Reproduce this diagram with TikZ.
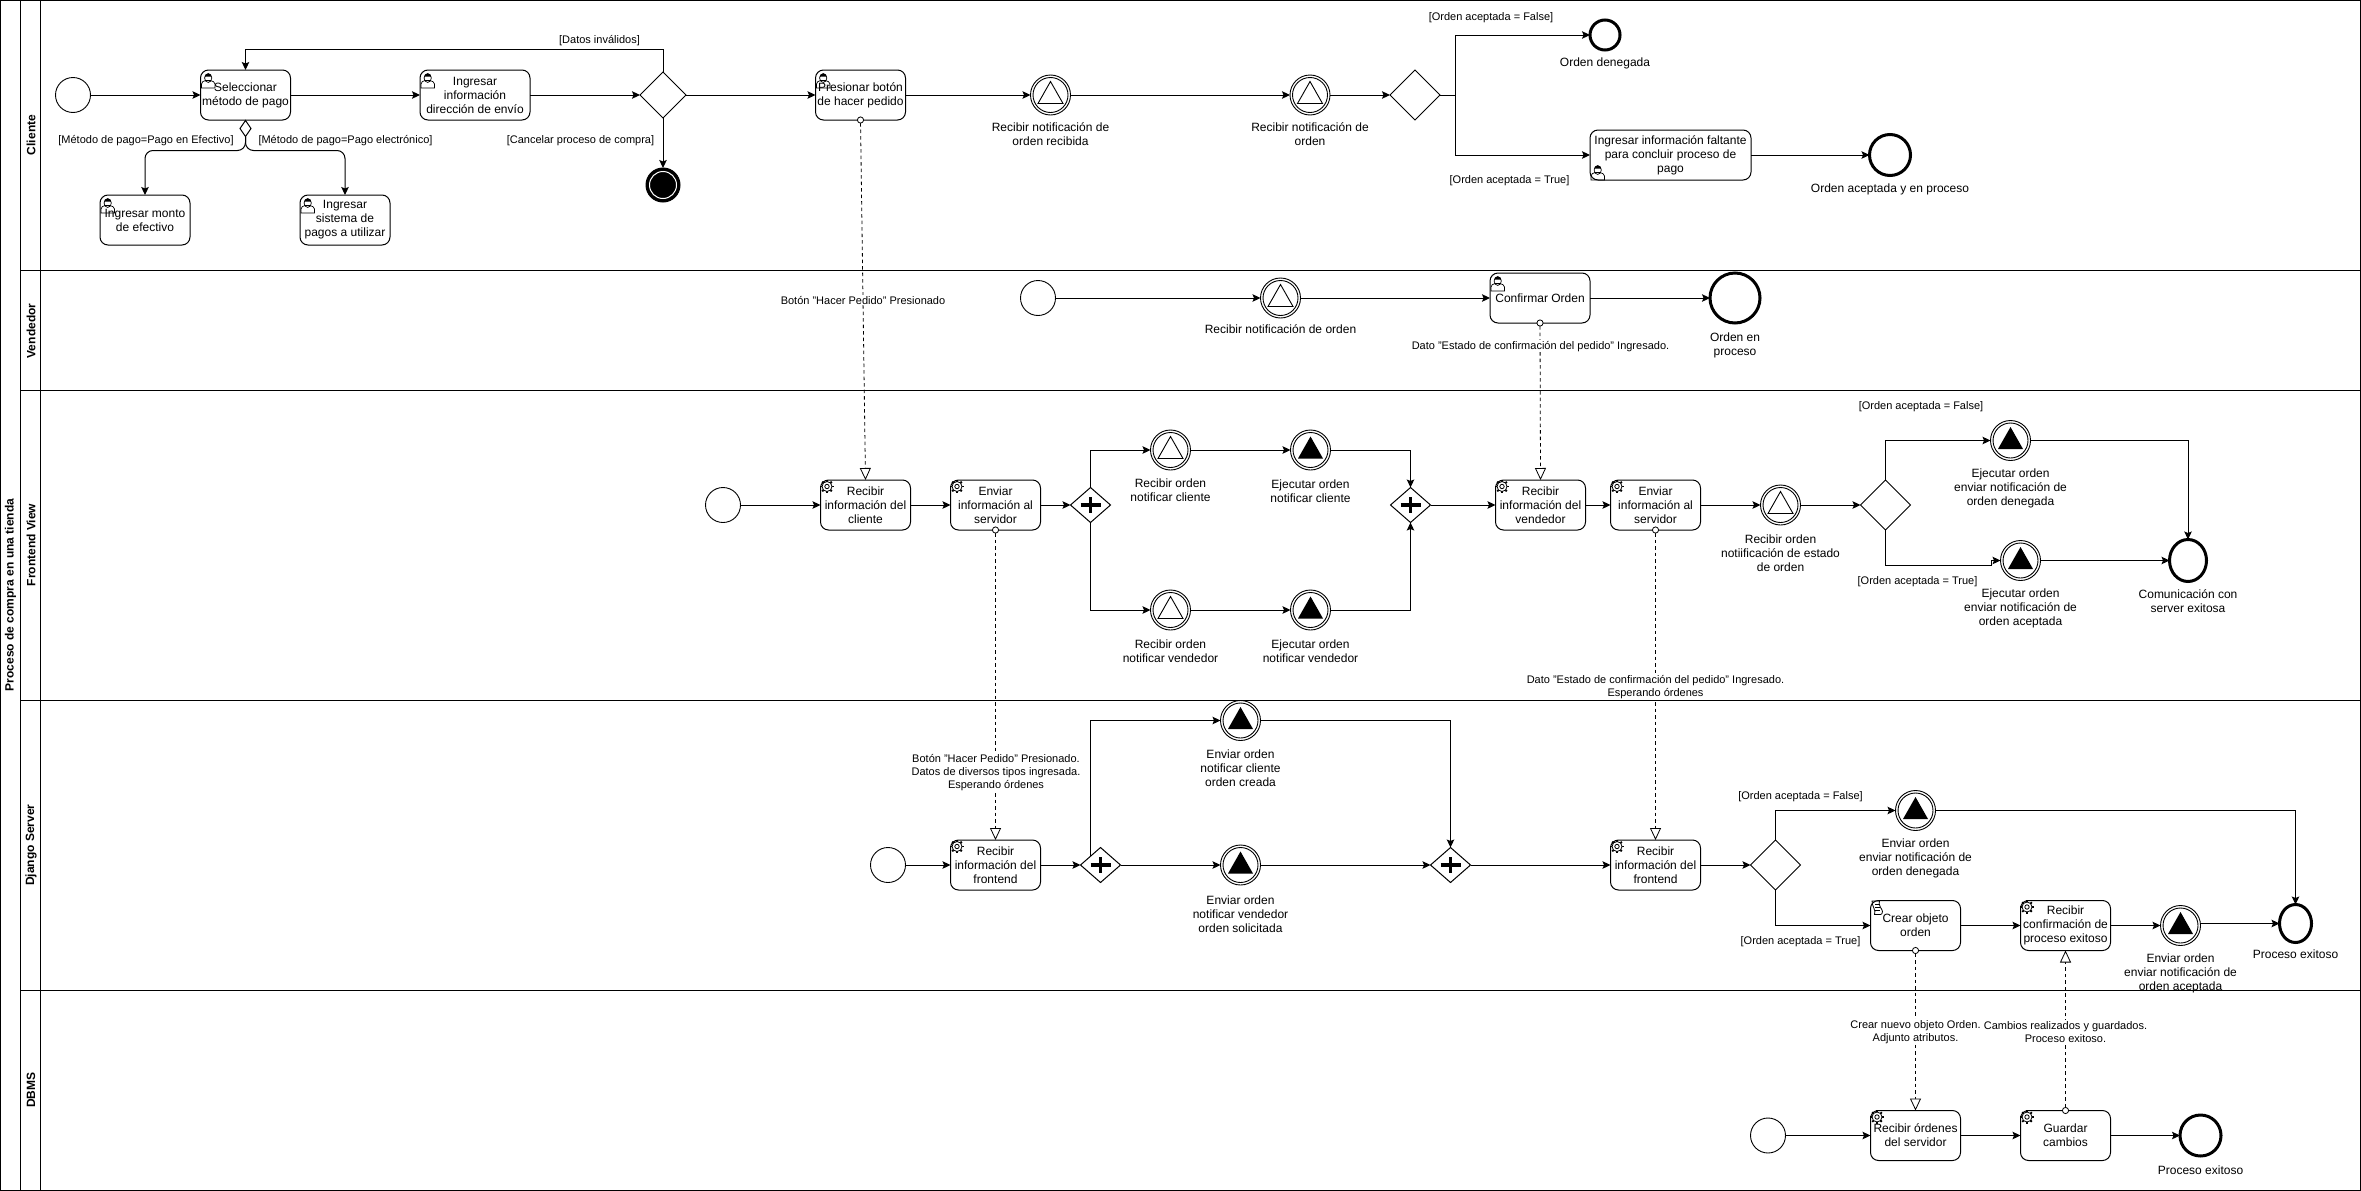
\documentclass[tikz,border=0pt]{standalone}
\usepackage{fontspec}
\setmainfont{Liberation Sans}
\usetikzlibrary{shapes.geometric, arrows.meta, positioning, calc}
\tikzstyle{arrow} = [line width=1pt, -{Stealth[length=8pt,width=7.5pt,inset=1.5pt]}]
\tikzstyle{line} = [line width=1pt]
\tikzstyle{flow} = [line width=0.8pt, dash pattern=on 3.5pt off 3pt, shorten <=-3.5pt,
	{Circle[length=7pt,width=7pt,fill=white]}-{Triangle[length=12pt,width=11pt,fill=white]}]
\tikzstyle{task} = [draw, line width=1pt, rounded corners=8pt, fill=white, inner sep=0, outer sep=0,
	minimum width=90, minimum height=50, align=center]
\tikzstyle{start} = [draw, circle, line width=0.9pt, inner sep=0, outer sep=0, minimum size=35]
\tikzstyle{final} = [draw, ellipse, line width=3pt, fill=white, inner sep=0, outer sep=0]
\tikzstyle{blackend} = [draw, circle, fill=black, line width=1pt, inner sep=0, outer sep=0, minimum size=34,
	path picture={\draw [white, line width=1pt] (path picture bounding box.center) circle (13.5);}]
\tikzstyle{event} = [draw, circle, line width=0.9pt, inner sep=0, outer sep=0, minimum size=40]
\tikzstyle{evrecv} = [event, path picture={
	\draw [line width=0.9pt] (path picture bounding box.center) circle (17.5);
	\draw [line width=0.9pt] (path picture bounding box.center) ++(0,-13.5) -- ++(12.5,22) -- ++(-25,0) -- cycle;}]
\tikzstyle{evsend} = [event, path picture={
	\draw [line width=0.9pt] (path picture bounding box.center) circle (17.5);
	\fill (path picture bounding box.center) ++(0,-13.5) -- ++(12.5,22) -- ++(-25,0) -- cycle;}]
\tikzstyle{gate} = [draw, diamond, line width=1pt, fill=white, inner sep=0, outer sep=0, minimum width=50, minimum height=50]
\tikzstyle{gateplus} = [gate, minimum width=40, minimum height=35, path picture={
	\draw [line width=3.5pt] (path picture bounding box.center) ++(-10,0) -- ++(20,0);
	\draw [line width=3.5pt] (path picture bounding box.center) ++(0,-8) -- ++(0,16);}]
\tikzstyle{cond} = [draw, diamond, line width=1pt, fill=white, inner sep=0, outer sep=0, minimum width=11, minimum height=16]
\tikzstyle{note} = [inner sep=0, align=center, yshift=-0.7pt]
\tikzstyle{guard} = [inner sep=0, align=center, yshift=-0.7pt, font=\fontsize{11}{13}\selectfont]
\tikzstyle{guardbg} = [guard, fill=white, inner ysep=1pt, inner xsep=0pt]
\tikzstyle{lane} = [inner sep=0, rotate=90, font=\fontsize{12}{14}\selectfont\bfseries]
\tikzset{
	usericon/.pic={
		\draw [line width=0.7pt] (1,18) -- (1,14) .. controls (1,12) and (3,11) .. (5,10.5)
			-- (10,10.5) .. controls (12,11) and (14.5,12) .. (14.5,14) -- (14.5,18) -- cycle;
		\draw [line width=0.7pt] (7.7,8) ellipse (3.6 and 4.4);
		\fill (4.2,7) .. controls (4.5,2.5) and (11,2.5) .. (11.2,7) -- (10,6.5) -- (5.5,6.5) -- cycle;
	},
	gearicon/.pic={
		\foreach \a in {0,45,...,315}
			\draw [line width=1.8pt] (6.5,6.5) ++(\a:4.8) -- ++(\a:2);
		\draw [fill=white, line width=0.8pt] (6.5,6.5) circle (5);
		\draw [fill=white, line width=0.8pt] (6.5,6.5) circle (2.2);
	},
	scripticon/.pic={
		\draw [line width=0.8pt] (1.5,0.5) -- (9,0.5) .. controls (7,4) and (12,9) .. (12,11)
			.. controls (12,13) and (11,14) .. (10,14) -- (4,14) .. controls (6,10) and (1,5) .. (1.5,0.5) -- cycle;
		\foreach \y in {4,7,10}
			\draw [line width=0.7pt] (4.5,\y) -- (9.5,\y);
	}
}

\begin{document}
\begin{tikzpicture}[x=1pt, y=-1pt, font=\fontsize{12}{14}\selectfont]
	\useasboundingbox (0,0) rectangle (2361,1191);

	% pool and lanes
	\draw [line width=1pt] (0.6,0.6) rectangle (2360.4,1190.4);
	\draw [line width=1pt] (20.5,0.6) -- (20.5,1190.4);
	\draw [line width=1pt] (40,0.6) -- (40,1190.4);
	\foreach \y in {270,390,700,990}
		\draw [line width=1pt] (20.5,\y) -- (2360.4,\y);
	\node (pool) [lane] at (10.5,595) {Proceso de compra en una tienda};
	\node (laneCliente) [lane] at (31,135) {Cliente};
	\node (laneVendedor) [lane] at (31,331) {Vendedor};
	\node (laneFrontend) [lane] at (31,545) {Frontend View};
	\node (laneDjango) [lane] at (31,845) {Django Server};
	\node (laneDbms) [lane] at (31,1090) {DBMS};

	% Cliente
	\node (cStart) [start] at (73,95) {};
	\node (cMetodo) [task] at (245.5,95) {Seleccionar\\método de pago};
	\node (cDireccion) [task, minimum width=110] at (475,95) {Ingresar\\información\\dirección de envío};
	\node (cGate) [gate, minimum width=46, minimum height=46] at (663,95) {};
	\node (cCancel) [blackend] at (663,185) {};
	\node (cCond) [cond] at (245.5,128.5) {};
	\node (cMonto) [task] at (145,220) {Ingresar monto\\de efectivo};
	\node (cSistema) [task] at (345,220) {Ingresar\\sistema de\\pagos a utilizar};
	\node (cBoton) [task] at (860.5,95) {Presionar botón\\de hacer pedido};
	\node (cNotif) [evrecv] at (1050.5,95) {};
	\node (cOrden) [evrecv] at (1310,95) {};
	\node (cGate2) [gate] at (1415,95) {};
	\node (cDenegada) [final, minimum width=30, minimum height=30] at (1605,35) {};
	\node (cFaltante) [task, minimum width=161] at (1670.5,155) {Ingresar información faltante\\para concluir proceso de\\pago};
	\node (cAceptada) [final, minimum width=41, minimum height=41] at (1890,155) {};
	\coordinate (cLoop) at (663,49.5);
	\coordinate (cSplit) at (1455.6,95);

	\draw [arrow] (cStart) -- (cMetodo);
	\draw [arrow] (cMetodo) -- (cDireccion);
	\draw [arrow] (cDireccion) -- (cGate);
	\draw [arrow] (cGate.north) -- (cLoop) -| (cMetodo.north);
	\draw [arrow] (cGate.south) -- (cCancel);
	\draw [arrow, rounded corners=8pt] (cCond.south) -- ++(0,14) -| (cMonto.north);
	\draw [arrow, rounded corners=8pt] (cCond.south) -- ++(0,14) -| (cSistema.north);
	\draw [arrow] (cGate) -- (cBoton);
	\draw [arrow] (cBoton) -- (cNotif);
	\draw [arrow] (cNotif) -- (cOrden);
	\draw [arrow] (cOrden) -- (cGate2);
	\draw [line] (cGate2) -- (cSplit);
	\draw [arrow] (cSplit) |- (cDenegada);
	\draw [arrow] (cSplit) |- (cFaltante);
	\draw [arrow] (cFaltante) -- (cAceptada);

	\node (gDatos) [guard] at (599.5,40) {[Datos inválidos]};
	\node (gCancelar) [guard] at (580.5,140) {[Cancelar proceso de compra]};
	\node (gEfectivo) [guard] at (146,140) {[Método de pago=Pago en Efectivo]};
	\node (gElectronico) [guard] at (345.5,140) {[Método de pago=Pago electrónico]};
	\node (gFalse1) [guard] at (1491,17) {[Orden aceptada = False]};
	\node (gTrue1) [guard] at (1509.5,180) {[Orden aceptada = True]};
	\node (nNotif) [note] at (1050.5,133) {Recibir notificación de\\orden recibida};
	\node (nOrden) [note] at (1310,133) {Recibir notificación de\\orden};
	\node (nDenegada) [note] at (1605,63) {Orden denegada};
	\node (nAceptada) [note] at (1890,188.5) {Orden aceptada y en proceso};

	% Vendedor
	\node (vStart) [start] at (1038,298) {};
	\node (vNotif) [evrecv] at (1280.5,298) {};
	\node (vConfirmar) [task, minimum width=100] at (1540,298) {Confirmar Orden};
	\node (vEnd) [final, minimum width=50, minimum height=50] at (1735,298) {};
	\draw [arrow] (vStart) -- (vNotif);
	\draw [arrow] (vNotif) -- (vConfirmar);
	\draw [arrow] (vConfirmar) -- (vEnd);
	\node (nVNotif) [note] at (1280.5,328.5) {Recibir notificación de orden};
	\node (nVEnd) [note] at (1735,344.5) {Orden en\\proceso};

	% Frontend View
	\node (fStart) [start] at (723,505) {};
	\node (fCliente) [task] at (865.5,505) {Recibir\\información del\\cliente};
	\node (fEnviar) [task] at (995.5,505) {Enviar\\información al\\servidor};
	\node (fGate) [gateplus] at (1090.5,505) {};
	\node (fRecCli) [evrecv] at (1170.5,450) {};
	\node (fEjeCli) [evsend] at (1310.5,450) {};
	\node (fRecVen) [evrecv] at (1170.5,610) {};
	\node (fEjeVen) [evsend] at (1310.5,610) {};
	\node (fJoin) [gateplus] at (1410.5,505) {};
	\node (fVendedor) [task] at (1540.5,505) {Recibir\\información del\\vendedor};
	\node (fServidor) [task] at (1655.5,505) {Enviar\\información al\\servidor};
	\node (fEstado) [evrecv] at (1780.5,505) {};
	\node (fGate2) [gate] at (1885.5,505) {};
	\node (fDenegada) [evsend] at (2010.5,440.5) {};
	\node (fAceptada) [evsend] at (2020.5,560.5) {};
	\node (fEnd) [final, minimum width=37, minimum height=42] at (2188,560.5) {};
	\coordinate (fKink) at (1991,565.5);
	\coordinate (fKink2) at (1991,560.5);

	\draw [arrow] (fStart) -- (fCliente);
	\draw [arrow] (fCliente) -- (fEnviar);
	\draw [arrow] (fEnviar) -- (fGate);
	\draw [arrow] (fGate.north) |- (fRecCli);
	\draw [arrow] (fRecCli) -- (fEjeCli);
	\draw [arrow] (fEjeCli) -| (fJoin.north);
	\draw [arrow] (fGate.south) |- (fRecVen);
	\draw [arrow] (fRecVen) -- (fEjeVen);
	\draw [arrow] (fEjeVen) -| (fJoin.south);
	\draw [arrow] (fJoin) -- (fVendedor);
	\draw [arrow] (fVendedor) -- (fServidor);
	\draw [arrow] (fServidor) -- (fEstado);
	\draw [arrow] (fEstado) -- (fGate2);
	\draw [arrow] (fGate2.north) |- (fDenegada);
	\draw [arrow] (fGate2.south) |- (fKink) -- (fKink2) -- (fAceptada);
	\draw [arrow] (fDenegada) -| (fEnd.north);
	\draw [arrow] (fAceptada) -- (fEnd);

	\node (nRecCli) [note] at (1170.5,489.5) {Recibir orden\\notificar cliente};
	\node (nEjeCli) [note] at (1310.5,490.5) {Ejecutar orden\\notificar cliente};
	\node (nRecVen) [note] at (1170.5,650.5) {Recibir orden\\notificar vendedor};
	\node (nEjeVen) [note] at (1310.5,650.5) {Ejecutar orden\\notificar vendedor};
	\node (nEstado) [note] at (1780.5,552.5) {Recibir orden\\notiificación de estado\\de orden};
	\node (nDenegada2) [note] at (2010.5,487.5) {Ejecutar orden\\enviar notificación de\\orden denegada};
	\node (nAceptada2) [note] at (2020.5,607.5) {Ejecutar orden\\enviar notificación de\\orden aceptada};
	\node (nFEnd) [note] at (2188,600.5) {Comunicación con\\server exitosa};
	\node (gFalse2) [guard] at (1921,405.5) {[Orden aceptada = False]};
	\node (gTrue2) [guard] at (1917.5,580.5) {[Orden aceptada = True]};

	% Django Server
	\node (dStart) [start] at (888,865) {};
	\node (dFrontend) [task] at (995.5,865) {Recibir\\información del\\frontend};
	\node (dGate) [gateplus] at (1100.5,865) {};
	\node (dCliente) [evsend] at (1240.5,720.5) {};
	\node (dVendedor) [evsend] at (1240.5,865) {};
	\node (dJoin) [gateplus] at (1450.5,865) {};
	\node (dFrontend2) [task] at (1655.5,865) {Recibir\\información del\\frontend};
	\node (dGate2) [gate] at (1775.5,865) {};
	\node (dDenegada) [evsend] at (1915.5,810.5) {};
	\node (dCrear) [task] at (1915.5,925.5) {Crear objeto\\orden};
	\node (dConfirma) [task] at (2065.5,925.5) {Recibir\\confirmación de\\proceso exitoso};
	\node (dAceptada) [evsend] at (2180.5,925.5) {};
	\node (dEnd) [final, minimum width=32, minimum height=38] at (2295.5,923.5) {};

	\draw [arrow] (dStart) -- (dFrontend);
	\draw [arrow] (dFrontend) -- (dGate);
	\draw [arrow] (dGate.north west) |- (dCliente);
	\draw [arrow] (dCliente) -| (dJoin.north);
	\draw [arrow] (dGate) -- (dVendedor);
	\draw [arrow] (dVendedor) -- (dJoin);
	\draw [arrow] (dJoin) -- (dFrontend2);
	\draw [arrow] (dFrontend2) -- (dGate2);
	\draw [arrow] (dGate2.north) |- (dDenegada);
	\draw [arrow] (dGate2.south) |- (dCrear);
	\draw [arrow] (dCrear) -- (dConfirma);
	\draw [arrow] (dConfirma) -- (dAceptada);
	\draw [arrow] (dDenegada) -| (dEnd.north);
	\draw [arrow] (dAceptada.east |- dEnd) -- (dEnd);

	\node (nDCliente) [note] at (1240.5,767.5) {Enviar orden\\notificar cliente\\orden creada};
	\node (nDVendedor) [note] at (1240.5,913) {Enviar orden\\notificar vendedor\\orden solicitada};
	\node (nDDenegada) [note] at (1915.5,857.5) {Enviar orden\\enviar notificación de\\orden denegada};
	\node (nDAceptada) [note] at (2180.5,973) {Enviar orden\\enviar notificación de\\orden aceptada};
	\node (nDEnd) [note] at (2295.5,953.5) {Proceso exitoso};
	\node (gFalse3) [guard] at (1800.5,795.5) {[Orden aceptada = False]};
	\node (gTrue3) [guard] at (1800.5,940.5) {[Orden aceptada = True]};

	% DBMS
	\node (bStart) [start] at (1768,1135.5) {};
	\node (bOrdenes) [task] at (1915.5,1135.5) {Recibir órdenes\\del servidor};
	\node (bGuardar) [task] at (2065.5,1135.5) {Guardar\\cambios};
	\node (bEnd) [final, minimum width=41, minimum height=41] at (2200.5,1135.5) {};
	\draw [arrow] (bStart) -- (bOrdenes);
	\draw [arrow] (bOrdenes) -- (bGuardar);
	\draw [arrow] (bGuardar) -- (bEnd);
	\node (nBEnd) [note] at (2200.5,1169) {Proceso exitoso};

	% message flows
	\draw [flow] (cBoton.south) -- (fCliente.north);
	\draw [flow] (vConfirmar.south) -- (fVendedor.north);
	\draw [flow] (fEnviar.south) -- (dFrontend.north);
	\draw [flow] (fServidor.south) -- (dFrontend2.north);
	\draw [flow] (dCrear.south) -- (bOrdenes.north);
	\draw [flow] (bGuardar.north) -- (dConfirma.south);
	\node (mBoton) [guardbg] at (863,299.5) {Botón "Hacer Pedido" Presionado};
	\node (mEstado) [guardbg] at (1540.5,345.5) {Dato "Estado de confirmación del pedido" Ingresado.};
	\node (mPedido) [guardbg] at (996,771.5) {Botón "Hacer Pedido" Presionado.\\Datos de diversos tipos ingresada.\\Esperando órdenes};
	\node (mEstado2) [guardbg] at (1655.5,686) {Dato "Estado de confirmación del pedido" Ingresado.\\Esperando órdenes};
	\node (mCrear) [guardbg] at (1915.5,1031) {Crear nuevo objeto Orden.\\Adjunto atributos.};
	\node (mCambios) [guardbg] at (2065.5,1031) {Cambios realizados y guardados.\\Proceso exitoso.};

	% task markers
	\foreach \t in {cMetodo, cDireccion, cMonto, cSistema, cBoton, vConfirmar}
		\pic at (\t.north west) {usericon};
	\pic at ($(cFaltante.south west)+(0,-18)$) {usericon};
	\foreach \t in {fCliente, fEnviar, fVendedor, fServidor, dFrontend, dFrontend2, dConfirma, bOrdenes, bGuardar}
		\pic at (\t.north west) {gearicon};
	\pic at (dCrear.north west) {scripticon};
\end{tikzpicture}
\end{document}
